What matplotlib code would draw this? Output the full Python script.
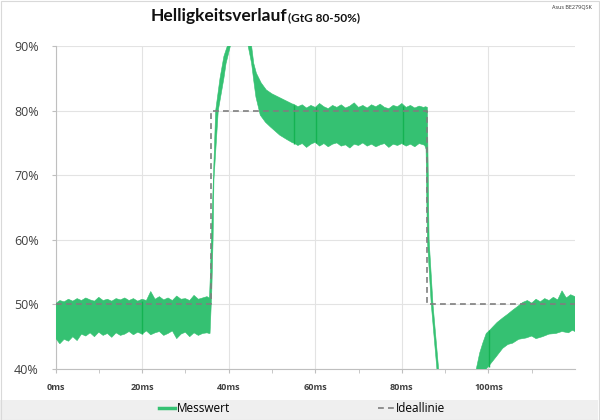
import matplotlib
matplotlib.use("Agg")
import matplotlib.pyplot as plt
from matplotlib.lines import Line2D
from matplotlib.patches import Rectangle

plt.rcParams['font.family'] = ['Open Sans', 'DejaVu Sans']

# measured curve, drawn as envelope (upper / lower edge of the noisy band)
base_t = list(range(0, 36))
base_hi = [50.1, 50.6, 50.4, 50.8, 50.5, 50.9, 50.6, 51.0, 50.7, 50.5, 51.1, 50.6,
           50.8, 50.5, 50.9, 50.7, 51.0, 50.6, 50.9, 50.5, 50.8, 50.6, 52.0, 50.8,
           51.2, 50.7, 51.0, 50.6, 51.3, 50.8, 50.9, 50.6, 51.4, 50.8, 51.0, 51.2]
base_lo = [44.8, 43.9, 44.6, 44.3, 45.0, 44.4, 45.4, 45.1, 45.6, 45.0, 45.7, 45.2,
           45.5, 44.9, 45.6, 45.2, 45.4, 45.8, 45.3, 45.7, 45.4, 45.9, 45.3, 45.6,
           45.8, 45.2, 45.5, 45.9, 44.7, 45.4, 45.7, 45.0, 45.6, 45.2, 45.5, 45.6]

rise_hi_t = [35.5, 35.6, 35.8, 36.0, 36.5, 37.0, 38.0, 38.9, 39.7, 40.5, 42.0, 44.0,
             45.3, 45.8, 46.4, 47.5, 48.7, 50.0, 51.8, 53.0, 54.8]
rise_hi = [51.0, 51.5, 55.0, 60.0, 70.0, 80.0, 85.0, 88.4, 90.0, 93.0, 96.0, 94.0,
           90.0, 87.3, 85.8, 84.3, 83.2, 82.6, 82.0, 81.6, 81.0]
rise_lo_t = [35.5, 35.7, 36.1, 36.4, 36.6, 37.6, 38.9, 39.4, 40.4, 41.0, 42.0, 43.6,
             44.5, 45.3, 45.8, 46.3, 47.3, 48.5, 49.6, 51.8, 53.5, 54.8]
rise_lo = [45.5, 45.5, 52.0, 60.0, 69.3, 80.0, 85.0, 87.3, 90.0, 94.0, 95.0, 93.0,
           90.0, 87.3, 84.6, 82.1, 79.3, 78.2, 77.5, 76.2, 75.5, 75.0]

high_t = list(range(55, 86))
high_hi = [81.0, 80.6, 80.9, 80.4, 80.8, 80.5, 81.1, 80.6, 80.3, 80.8, 80.5, 80.9,
           80.4, 80.7, 81.2, 80.5, 80.8, 80.4, 80.9, 80.6, 81.0, 80.5, 80.3, 80.8,
           80.6, 81.1, 80.5, 80.8, 80.4, 80.7, 80.5]
high_lo = [75.0, 74.6, 74.9, 74.3, 74.8, 75.1, 74.5, 74.9, 74.4, 74.8, 75.0, 74.5,
           74.7, 74.2, 74.8, 74.6, 75.0, 74.5, 74.8, 74.4, 74.7, 74.9, 74.3, 74.8,
           74.6, 74.9, 74.5, 74.8, 74.4, 74.9, 74.7]

drop_hi_t = [85.5, 85.9, 86.3, 87.2, 88.5, 88.7, 97.0]
drop_hi = [80.6, 80.5, 60.0, 50.0, 40.0, 35.0, 35.0]
drop_lo_t = [85.3, 85.6, 85.9, 86.8, 88.1, 88.3, 99.3]
drop_lo = [74.6, 74.0, 60.0, 50.0, 40.0, 35.0, 35.0]

rec_hi_t = [97.2, 98.0, 98.7, 99.5, 100.3, 101.0, 102.0, 103.3, 104.5, 105.6, 106.8,
            107.9, 109.0, 110.0, 111.0, 112.0, 113.0, 114.0, 115.0, 116.0, 117.0,
            118.0, 119.0, 120.0]
rec_hi = [40.0, 42.5, 44.0, 45.5, 46.0, 46.5, 47.2, 47.9, 48.5, 49.1, 49.7, 50.3,
          50.6, 50.2, 50.8, 50.4, 50.9, 50.6, 51.1, 50.7, 52.1, 51.0, 51.5, 51.2]
rec_lo_t = [99.5, 100.5, 101.8, 103.3, 104.5, 105.6, 107.0, 108.7, 110.0, 111.0,
            112.5, 114.0, 115.6, 117.0, 118.5, 119.4, 120.0]
rec_lo = [40.0, 40.8, 41.9, 43.2, 43.8, 44.0, 44.6, 44.8, 45.1, 44.7, 45.0, 45.4,
          45.5, 45.8, 45.6, 46.0, 45.8]

# darker streaks inside the band
streak_t = [20.0, 55.2, 60.1, 80.2, 100.2]
streak_lo = [45.4, 74.8, 75.0, 74.8, 40.3]
streak_hi = [50.5, 80.8, 80.5, 80.7, 46.0]

# ideal line
ideal_t = [0, 36.0, 36.0, 85.9, 85.9, 120]
ideal_v = [50, 50, 80, 80, 50, 50]

green = '#35c172'
dark_green = '#14b252'
grid_c = '#e3e3e3'
title_font = ['Lato', 'DejaVu Sans']

upper_t = base_t + rise_hi_t + high_t + drop_hi_t + rec_hi_t
upper_v = base_hi + rise_hi + high_hi + drop_hi + rec_hi
lower_t = base_t + rise_lo_t + high_t + drop_lo_t + rec_lo_t
lower_v = base_lo + rise_lo + high_lo + drop_lo + rec_lo

fig = plt.figure(figsize=(6, 4.2), dpi=100)
fig.patches.append(Rectangle((0, 0.5 / 420), 1 - 2 / 600, 20 / 420, transform=fig.transFigure,
                             facecolor='#efefef', edgecolor='none', zorder=0))
fig.patches.append(Rectangle((0.5 / 600, 0.5 / 420), 1 - 2 / 600, 1 - 1.5 / 420,
                             transform=fig.transFigure, facecolor='none',
                             edgecolor='#d9d9d9', lw=0.8, zorder=1))

ax = fig.add_axes([55.5 / 600, 1 - 369 / 420, (575 - 55.5) / 600, (369 - 46) / 420])
ax.fill(upper_t + lower_t[::-1], upper_v + lower_v[::-1], color=green, lw=0.4,
        edgecolor=green, zorder=3)
ax.vlines(streak_t, streak_lo, streak_hi, color=dark_green, lw=1.0, zorder=4)
ax.plot(ideal_t, ideal_v, color='#7f7f7f', lw=1.2, ls=(0, (3.5, 2.5)), zorder=5)

ax.set_xlim(0, 120)
ax.set_ylim(40, 90)
ax.set_xticks(range(0, 120, 20))
ax.set_xticklabels(['%dms' % v for v in range(0, 120, 20)], fontsize=6.5,
                   fontweight='bold', color='#404040')
ax.set_xticks(range(10, 120, 20), minor=True)
ax.set_yticks(range(40, 91, 10))
ax.set_yticklabels(['%d%%' % v for v in range(40, 91, 10)], fontsize=9, color='#404040')
ax.grid(True, color=grid_c, lw=0.8)
ax.set_axisbelow(True)
for s in ['top', 'right']:
    ax.spines[s].set_visible(False)
for s in ['left', 'bottom']:
    ax.spines[s].set_color('#bfbfbf')
    ax.spines[s].set_linewidth(0.8)
ax.tick_params(axis='y', length=3, color='#bfbfbf', pad=9)
ax.tick_params(axis='x', which='both', length=3, color='#bfbfbf', pad=7)

fig.text(287 / 600, 1 - 21 / 420, 'Helligkeitsverlauf', ha='right', va='baseline',
         fontsize=12.5, fontweight='bold', color='#111111', family=title_font)
fig.text(288 / 600, 1 - 21 / 420, '(GtG 80-50%)', ha='left', va='baseline',
         fontsize=8.5, fontweight='bold', color='#111111', family=title_font)
fig.text(592 / 600, 1 - 7 / 420, 'Asus BE279QSK', ha='right', va='center',
         fontsize=4, color='#333333')

handles = [Line2D([], [], color=green, lw=2.5),
           Line2D([], [], color='#7f7f7f', lw=1.2, ls=(0, (3.5, 2.5)))]
fig.legend(handles, ['Messwert', 'Ideallinie'], loc='center', ncol=2,
           bbox_to_anchor=(302 / 600, 1 - 409 / 420), frameon=False, fontsize=8.5,
           handlelength=1.4, handletextpad=0.15, columnspacing=12.5)

fig.savefig('out.png', dpi=100)
